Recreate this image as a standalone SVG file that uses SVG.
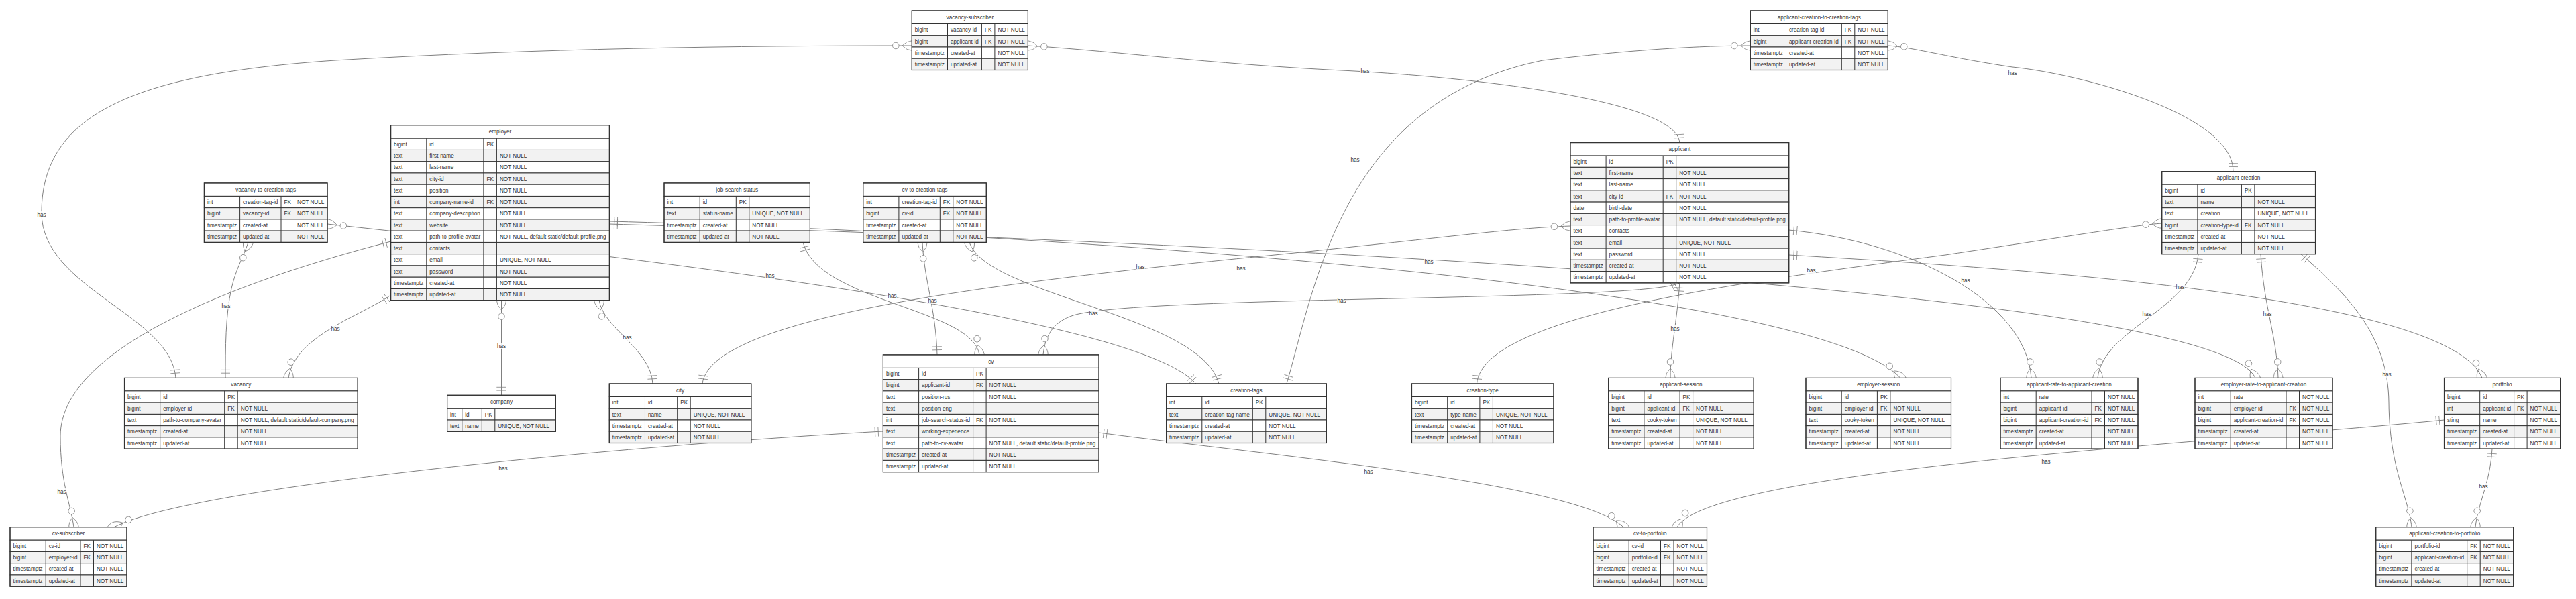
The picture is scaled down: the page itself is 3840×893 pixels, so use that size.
<svg xmlns="http://www.w3.org/2000/svg" width="3840" height="893" viewBox="0 0 3840 893">
<style>
.hd{fill:#fff;stroke:#333;stroke-width:1}
.o{fill:#fff;stroke:#333;stroke-width:1}
.e{fill:#f2f2f2;stroke:#333;stroke-width:1}
.v{stroke:#333;stroke-width:1;fill:none}
.fr{fill:none;stroke:#333;stroke-width:1.2}
text{font-family:"Liberation Sans",Arial,Helvetica,sans-serif;font-size:8.2px;fill:#333}
.h{text-anchor:middle}
.rl{fill:none;stroke:gray;stroke-width:1;marker-start:url(#one);marker-end:url(#many)}
.lb{fill:#fff;opacity:0.85}
.mk{fill:none;stroke:gray;stroke-width:1}
</style>
<defs>
<marker id="one" viewBox="0 0 18 18" markerWidth="14.4" markerHeight="14.4" refX="0" refY="9" orient="auto" markerUnits="userSpaceOnUse"><path class="mk" d="M9,0 L9,18 M15,0 L15,18"/></marker>
<marker id="many" viewBox="0 0 57 36" markerWidth="45.6" markerHeight="28.8" refX="39" refY="18" orient="auto" markerUnits="userSpaceOnUse"><circle cx="9" cy="18" r="6" fill="#fff" stroke="gray"/><path class="mk" d="M21,18 Q39,0 57,18 Q39,36 21,18"/></marker>
</defs>
<rect width="3840" height="893" fill="#fff"/>
<g id="connectors">
<path class="rl" d="M262,563.4 C255,470 62,430 62,317 C62,170 200,110 500,90 C800,72 1100,68 1359.3,68"/>
<path class="rl" d="M336,563.4 C336,520 336,470 345,430 C352,400 362,385 370,361.4"/>
<path class="rl" d="M582.6,440 C540,470 440,500 430,563.4"/>
<path class="rl" d="M747.5,589.3 L747.5,447.7"/>
<path class="rl" d="M973,572 C970,520 900,490 893,447.7"/>
<path class="rl" d="M1047,572 C1060,470 1500,420 1900,380 C2150,355 2250,340 2340.9,337"/>
<path class="rl" d="M908.4,330 C1500,345 2700,420 2833,563.4"/>
<path class="rl" d="M908.4,334 C1800,360 3300,430 3362,563.4"/>
<path class="rl" d="M582.6,360 C350,420 90,520 90,650 C90,720 105,750 110,785.7"/>
<path class="rl" d="M1197,361.4 C1220,450 1450,460 1460,528.9"/>
<path class="rl" d="M1397,528.9 C1395,460 1378,420 1375,361.4"/>
<path class="rl" d="M1817,572 C1790,470 1470,440 1445,361.4"/>
<path class="rl" d="M1783,572 C1700,480 1100,400 488,334"/>
<path class="rl" d="M1918,572 C1960,430 2000,150 2300,90 C2450,72 2550,68 2609.3,68"/>
<path class="rl" d="M3329,255.7 C3330,170 3100,110 3000,100 C2900,85 2850,70 2814.3,68"/>
<path class="rl" d="M2503.8,212.6 C2500,150 2200,115 2000,105 C1800,95 1650,75 1532.4,68"/>
<path class="rl" d="M2201.5,572 C2210,470 2600,420 2900,380 C3100,350 3180,336 3222.7,333"/>
<path class="rl" d="M3277,378.7 C3270,460 3135,490 3127,563.4"/>
<path class="rl" d="M3370,378.7 C3375,460 3394,500 3396,563.4"/>
<path class="rl" d="M3430,378.7 C3500,440 3560,500 3561,600 C3562,700 3590,740 3595,785.7"/>
<path class="rl" d="M3643.5,626 C3300,660 2550,700 2500,785.7"/>
<path class="rl" d="M3715,669.2 C3712,720 3694,750 3690,785.7"/>
<path class="rl" d="M1316.4,643 C1000,660 300,720 170,785.7"/>
<path class="rl" d="M1638.1,645 C1900,680 2350,720 2420,785.7"/>
<path class="rl" d="M2503.8,421.9 C2450,450 1700,440 1600,470 C1570,480 1558,500 1555,528.9"/>
<path class="rl" d="M2503.8,421.9 C2500,480 2490,520 2490,563.4"/>
<path class="rl" d="M2666.7,343 C2850,360 3020,450 3028,563.4"/>
<path class="rl" d="M2666.7,380 C3000,400 3650,440 3700,563.4"/>
</g>
<g id="vacancy-subscriber" transform="translate(1359.3,16)">
<rect class="hd" width="173.1" height="19.5"/><text class="h" x="86.55" y="12.8">vacancy-subscriber</text>
<rect class="o" y="19.5" width="173.1" height="17.25"/><rect class="e" y="36.75" width="173.1" height="17.25"/><rect class="o" y="54" width="173.1" height="17.25"/><rect class="e" y="71.25" width="173.1" height="17.25"/>
<path class="v" d="M53.2,19.5V88.5M104.1,19.5V88.5M123.6,19.5V88.5"/><rect class="fr" width="173.1" height="88.5"/>
<text x="4.5" y="31.3">bigint</text><text x="57.7" y="31.3">vacancy-id</text><text x="108.6" y="31.3">FK</text><text x="128.1" y="31.3">NOT NULL</text>
<text x="4.5" y="48.55">bigint</text><text x="57.7" y="48.55">applicant-id</text><text x="108.6" y="48.55">FK</text><text x="128.1" y="48.55">NOT NULL</text>
<text x="4.5" y="65.8">timestamptz</text><text x="57.7" y="65.8">created-at</text><text x="128.1" y="65.8">NOT NULL</text>
<text x="4.5" y="83.05">timestamptz</text><text x="57.7" y="83.05">updated-at</text><text x="128.1" y="83.05">NOT NULL</text>
</g>
<g id="applicant-creation-to-creation-tags" transform="translate(2609.3,16)">
<rect class="hd" width="205" height="19.5"/><text class="h" x="102.5" y="12.8">applicant-creation-to-creation-tags</text>
<rect class="o" y="19.5" width="205" height="17.25"/><rect class="e" y="36.75" width="205" height="17.25"/><rect class="o" y="54" width="205" height="17.25"/><rect class="e" y="71.25" width="205" height="17.25"/>
<path class="v" d="M53.2,19.5V88.5M136,19.5V88.5M155.5,19.5V88.5"/><rect class="fr" width="205" height="88.5"/>
<text x="4.5" y="31.3">int</text><text x="57.7" y="31.3">creation-tag-id</text><text x="140.5" y="31.3">FK</text><text x="160" y="31.3">NOT NULL</text>
<text x="4.5" y="48.55">bigint</text><text x="57.7" y="48.55">applicant-creation-id</text><text x="140.5" y="48.55">FK</text><text x="160" y="48.55">NOT NULL</text>
<text x="4.5" y="65.8">timestamptz</text><text x="57.7" y="65.8">created-at</text><text x="160" y="65.8">NOT NULL</text>
<text x="4.5" y="83.05">timestamptz</text><text x="57.7" y="83.05">updated-at</text><text x="160" y="83.05">NOT NULL</text>
</g>
<g id="vacancy-to-creation-tags" transform="translate(304.4,272.9)">
<rect class="hd" width="183.6" height="19.5"/><text class="h" x="91.8" y="12.8">vacancy-to-creation-tags</text>
<rect class="o" y="19.5" width="183.6" height="17.25"/><rect class="e" y="36.75" width="183.6" height="17.25"/><rect class="o" y="54" width="183.6" height="17.25"/><rect class="e" y="71.25" width="183.6" height="17.25"/>
<path class="v" d="M53.2,19.5V88.5M114.6,19.5V88.5M134.1,19.5V88.5"/><rect class="fr" width="183.6" height="88.5"/>
<text x="4.5" y="31.3">int</text><text x="57.7" y="31.3">creation-tag-id</text><text x="119.1" y="31.3">FK</text><text x="138.6" y="31.3">NOT NULL</text>
<text x="4.5" y="48.55">bigint</text><text x="57.7" y="48.55">vacancy-id</text><text x="119.1" y="48.55">FK</text><text x="138.6" y="48.55">NOT NULL</text>
<text x="4.5" y="65.8">timestamptz</text><text x="57.7" y="65.8">created-at</text><text x="138.6" y="65.8">NOT NULL</text>
<text x="4.5" y="83.05">timestamptz</text><text x="57.7" y="83.05">updated-at</text><text x="138.6" y="83.05">NOT NULL</text>
</g>
<g id="employer" transform="translate(582.6,186.7)">
<rect class="hd" width="325.8" height="19.5"/><text class="h" x="162.9" y="12.8">employer</text>
<rect class="o" y="19.5" width="325.8" height="17.25"/><rect class="e" y="36.75" width="325.8" height="17.25"/><rect class="o" y="54" width="325.8" height="17.25"/><rect class="e" y="71.25" width="325.8" height="17.25"/><rect class="o" y="88.5" width="325.8" height="17.25"/><rect class="e" y="105.75" width="325.8" height="17.25"/><rect class="o" y="123" width="325.8" height="17.25"/><rect class="e" y="140.25" width="325.8" height="17.25"/><rect class="o" y="157.5" width="325.8" height="17.25"/><rect class="e" y="174.75" width="325.8" height="17.25"/><rect class="o" y="192" width="325.8" height="17.25"/><rect class="e" y="209.25" width="325.8" height="17.25"/><rect class="o" y="226.5" width="325.8" height="17.25"/><rect class="e" y="243.75" width="325.8" height="17.25"/>
<path class="v" d="M53.2,19.5V261M138.3,19.5V261M157.8,19.5V261"/><rect class="fr" width="325.8" height="261"/>
<text x="4.5" y="31.3">bigint</text><text x="57.7" y="31.3">id</text><text x="142.8" y="31.3">PK</text>
<text x="4.5" y="48.55">text</text><text x="57.7" y="48.55">first-name</text><text x="162.3" y="48.55">NOT NULL</text>
<text x="4.5" y="65.8">text</text><text x="57.7" y="65.8">last-name</text><text x="162.3" y="65.8">NOT NULL</text>
<text x="4.5" y="83.05">text</text><text x="57.7" y="83.05">city-id</text><text x="142.8" y="83.05">FK</text><text x="162.3" y="83.05">NOT NULL</text>
<text x="4.5" y="100.3">text</text><text x="57.7" y="100.3">position</text><text x="162.3" y="100.3">NOT NULL</text>
<text x="4.5" y="117.55">int</text><text x="57.7" y="117.55">company-name-id</text><text x="142.8" y="117.55">FK</text><text x="162.3" y="117.55">NOT NULL</text>
<text x="4.5" y="134.8">text</text><text x="57.7" y="134.8">company-description</text><text x="162.3" y="134.8">NOT NULL</text>
<text x="4.5" y="152.05">text</text><text x="57.7" y="152.05">website</text><text x="162.3" y="152.05">NOT NULL</text>
<text x="4.5" y="169.3">text</text><text x="57.7" y="169.3">path-to-profile-avatar</text><text x="162.3" y="169.3">NOT NULL, default static/default-profile.png</text>
<text x="4.5" y="186.55">text</text><text x="57.7" y="186.55">contacts</text>
<text x="4.5" y="203.8">text</text><text x="57.7" y="203.8">email</text><text x="162.3" y="203.8">UNIQUE, NOT NULL</text>
<text x="4.5" y="221.05">text</text><text x="57.7" y="221.05">password</text><text x="162.3" y="221.05">NOT NULL</text>
<text x="4.5" y="238.3">timestamptz</text><text x="57.7" y="238.3">created-at</text><text x="162.3" y="238.3">NOT NULL</text>
<text x="4.5" y="255.55">timestamptz</text><text x="57.7" y="255.55">updated-at</text><text x="162.3" y="255.55">NOT NULL</text>
</g>
<g id="job-search-status" transform="translate(990,272.9)">
<rect class="hd" width="217.4" height="19.5"/><text class="h" x="108.7" y="12.8">job-search-status</text>
<rect class="o" y="19.5" width="217.4" height="17.25"/><rect class="e" y="36.75" width="217.4" height="17.25"/><rect class="o" y="54" width="217.4" height="17.25"/><rect class="e" y="71.25" width="217.4" height="17.25"/>
<path class="v" d="M53.2,19.5V88.5M107.3,19.5V88.5M126.8,19.5V88.5"/><rect class="fr" width="217.4" height="88.5"/>
<text x="4.5" y="31.3">int</text><text x="57.7" y="31.3">id</text><text x="111.8" y="31.3">PK</text>
<text x="4.5" y="48.55">text</text><text x="57.7" y="48.55">status-name</text><text x="131.3" y="48.55">UNIQUE, NOT NULL</text>
<text x="4.5" y="65.8">timestamptz</text><text x="57.7" y="65.8">created-at</text><text x="131.3" y="65.8">NOT NULL</text>
<text x="4.5" y="83.05">timestamptz</text><text x="57.7" y="83.05">updated-at</text><text x="131.3" y="83.05">NOT NULL</text>
</g>
<g id="cv-to-creation-tags" transform="translate(1286.7,272.9)">
<rect class="hd" width="183.6" height="19.5"/><text class="h" x="91.8" y="12.8">cv-to-creation-tags</text>
<rect class="o" y="19.5" width="183.6" height="17.25"/><rect class="e" y="36.75" width="183.6" height="17.25"/><rect class="o" y="54" width="183.6" height="17.25"/><rect class="e" y="71.25" width="183.6" height="17.25"/>
<path class="v" d="M53.2,19.5V88.5M114.6,19.5V88.5M134.1,19.5V88.5"/><rect class="fr" width="183.6" height="88.5"/>
<text x="4.5" y="31.3">int</text><text x="57.7" y="31.3">creation-tag-id</text><text x="119.1" y="31.3">FK</text><text x="138.6" y="31.3">NOT NULL</text>
<text x="4.5" y="48.55">bigint</text><text x="57.7" y="48.55">cv-id</text><text x="119.1" y="48.55">FK</text><text x="138.6" y="48.55">NOT NULL</text>
<text x="4.5" y="65.8">timestamptz</text><text x="57.7" y="65.8">created-at</text><text x="138.6" y="65.8">NOT NULL</text>
<text x="4.5" y="83.05">timestamptz</text><text x="57.7" y="83.05">updated-at</text><text x="138.6" y="83.05">NOT NULL</text>
</g>
<g id="applicant" transform="translate(2340.9,212.6)">
<rect class="hd" width="325.8" height="19.5"/><text class="h" x="162.9" y="12.8">applicant</text>
<rect class="o" y="19.5" width="325.8" height="17.25"/><rect class="e" y="36.75" width="325.8" height="17.25"/><rect class="o" y="54" width="325.8" height="17.25"/><rect class="e" y="71.25" width="325.8" height="17.25"/><rect class="o" y="88.5" width="325.8" height="17.25"/><rect class="e" y="105.75" width="325.8" height="17.25"/><rect class="o" y="123" width="325.8" height="17.25"/><rect class="e" y="140.25" width="325.8" height="17.25"/><rect class="o" y="157.5" width="325.8" height="17.25"/><rect class="e" y="174.75" width="325.8" height="17.25"/><rect class="o" y="192" width="325.8" height="17.25"/>
<path class="v" d="M53.2,19.5V209.25M138.3,19.5V209.25M157.8,19.5V209.25"/><rect class="fr" width="325.8" height="209.25"/>
<text x="4.5" y="31.3">bigint</text><text x="57.7" y="31.3">id</text><text x="142.8" y="31.3">PK</text>
<text x="4.5" y="48.55">text</text><text x="57.7" y="48.55">first-name</text><text x="162.3" y="48.55">NOT NULL</text>
<text x="4.5" y="65.8">text</text><text x="57.7" y="65.8">last-name</text><text x="162.3" y="65.8">NOT NULL</text>
<text x="4.5" y="83.05">text</text><text x="57.7" y="83.05">city-id</text><text x="142.8" y="83.05">FK</text><text x="162.3" y="83.05">NOT NULL</text>
<text x="4.5" y="100.3">date</text><text x="57.7" y="100.3">birth-date</text><text x="162.3" y="100.3">NOT NULL</text>
<text x="4.5" y="117.55">text</text><text x="57.7" y="117.55">path-to-profile-avatar</text><text x="162.3" y="117.55">NOT NULL, default static/default-profile.png</text>
<text x="4.5" y="134.8">text</text><text x="57.7" y="134.8">contacts</text>
<text x="4.5" y="152.05">text</text><text x="57.7" y="152.05">email</text><text x="162.3" y="152.05">UNIQUE, NOT NULL</text>
<text x="4.5" y="169.3">text</text><text x="57.7" y="169.3">password</text><text x="162.3" y="169.3">NOT NULL</text>
<text x="4.5" y="186.55">timestamptz</text><text x="57.7" y="186.55">created-at</text><text x="162.3" y="186.55">NOT NULL</text>
<text x="4.5" y="203.8">timestamptz</text><text x="57.7" y="203.8">updated-at</text><text x="162.3" y="203.8">NOT NULL</text>
</g>
<g id="applicant-creation" transform="translate(3222.7,255.7)">
<rect class="hd" width="228.8" height="19.5"/><text class="h" x="114.4" y="12.8">applicant-creation</text>
<rect class="o" y="19.5" width="228.8" height="17.25"/><rect class="e" y="36.75" width="228.8" height="17.25"/><rect class="o" y="54" width="228.8" height="17.25"/><rect class="e" y="71.25" width="228.8" height="17.25"/><rect class="o" y="88.5" width="228.8" height="17.25"/><rect class="e" y="105.75" width="228.8" height="17.25"/>
<path class="v" d="M53.2,19.5V123M118.7,19.5V123M138.2,19.5V123"/><rect class="fr" width="228.8" height="123"/>
<text x="4.5" y="31.3">bigint</text><text x="57.7" y="31.3">id</text><text x="123.2" y="31.3">PK</text>
<text x="4.5" y="48.55">text</text><text x="57.7" y="48.55">name</text><text x="142.7" y="48.55">NOT NULL</text>
<text x="4.5" y="65.8">text</text><text x="57.7" y="65.8">creation</text><text x="142.7" y="65.8">UNIQUE, NOT NULL</text>
<text x="4.5" y="83.05">bigint</text><text x="57.7" y="83.05">creation-type-id</text><text x="123.2" y="83.05">FK</text><text x="142.7" y="83.05">NOT NULL</text>
<text x="4.5" y="100.3">timestamptz</text><text x="57.7" y="100.3">created-at</text><text x="142.7" y="100.3">NOT NULL</text>
<text x="4.5" y="117.55">timestamptz</text><text x="57.7" y="117.55">updated-at</text><text x="142.7" y="117.55">NOT NULL</text>
</g>
<g id="vacancy" transform="translate(185.5,563.4)">
<rect class="hd" width="347.7" height="19.5"/><text class="h" x="173.85" y="12.8">vacancy</text>
<rect class="o" y="19.5" width="347.7" height="17.25"/><rect class="e" y="36.75" width="347.7" height="17.25"/><rect class="o" y="54" width="347.7" height="17.25"/><rect class="e" y="71.25" width="347.7" height="17.25"/><rect class="o" y="88.5" width="347.7" height="17.25"/>
<path class="v" d="M53.2,19.5V105.75M149.2,19.5V105.75M168.7,19.5V105.75"/><rect class="fr" width="347.7" height="105.75"/>
<text x="4.5" y="31.3">bigint</text><text x="57.7" y="31.3">id</text><text x="153.7" y="31.3">PK</text>
<text x="4.5" y="48.55">bigint</text><text x="57.7" y="48.55">employer-id</text><text x="153.7" y="48.55">FK</text><text x="173.2" y="48.55">NOT NULL</text>
<text x="4.5" y="65.8">text</text><text x="57.7" y="65.8">path-to-company-avatar</text><text x="173.2" y="65.8">NOT NULL, default static/default-company.png</text>
<text x="4.5" y="83.05">timestamptz</text><text x="57.7" y="83.05">created-at</text><text x="173.2" y="83.05">NOT NULL</text>
<text x="4.5" y="100.3">timestamptz</text><text x="57.7" y="100.3">updated-at</text><text x="173.2" y="100.3">NOT NULL</text>
</g>
<g id="company" transform="translate(666.6,589.3)">
<rect class="hd" width="161.8" height="19.5"/><text class="h" x="80.9" y="12.8">company</text>
<rect class="o" y="19.5" width="161.8" height="17.25"/><rect class="e" y="36.75" width="161.8" height="17.25"/>
<path class="v" d="M22.2,19.5V54M51.7,19.5V54M71.2,19.5V54"/><rect class="fr" width="161.8" height="54"/>
<text x="4.5" y="31.3">int</text><text x="26.7" y="31.3">id</text><text x="56.2" y="31.3">PK</text>
<text x="4.5" y="48.55">text</text><text x="26.7" y="48.55">name</text><text x="75.7" y="48.55">UNIQUE, NOT NULL</text>
</g>
<g id="city" transform="translate(908.3,572)">
<rect class="hd" width="211.5" height="19.5"/><text class="h" x="105.75" y="12.8">city</text>
<rect class="o" y="19.5" width="211.5" height="17.25"/><rect class="e" y="36.75" width="211.5" height="17.25"/><rect class="o" y="54" width="211.5" height="17.25"/><rect class="e" y="71.25" width="211.5" height="17.25"/>
<path class="v" d="M53.2,19.5V88.5M101.4,19.5V88.5M120.9,19.5V88.5"/><rect class="fr" width="211.5" height="88.5"/>
<text x="4.5" y="31.3">int</text><text x="57.7" y="31.3">id</text><text x="105.9" y="31.3">PK</text>
<text x="4.5" y="48.55">text</text><text x="57.7" y="48.55">name</text><text x="125.4" y="48.55">UNIQUE, NOT NULL</text>
<text x="4.5" y="65.8">timestamptz</text><text x="57.7" y="65.8">created-at</text><text x="125.4" y="65.8">NOT NULL</text>
<text x="4.5" y="83.05">timestamptz</text><text x="57.7" y="83.05">updated-at</text><text x="125.4" y="83.05">NOT NULL</text>
</g>
<g id="cv" transform="translate(1316.4,528.9)">
<rect class="hd" width="321.7" height="19.5"/><text class="h" x="160.85" y="12.8">cv</text>
<rect class="o" y="19.5" width="321.7" height="17.25"/><rect class="e" y="36.75" width="321.7" height="17.25"/><rect class="o" y="54" width="321.7" height="17.25"/><rect class="e" y="71.25" width="321.7" height="17.25"/><rect class="o" y="88.5" width="321.7" height="17.25"/><rect class="e" y="105.75" width="321.7" height="17.25"/><rect class="o" y="123" width="321.7" height="17.25"/><rect class="e" y="140.25" width="321.7" height="17.25"/><rect class="o" y="157.5" width="321.7" height="17.25"/>
<path class="v" d="M53.2,19.5V174.75M134.2,19.5V174.75M153.7,19.5V174.75"/><rect class="fr" width="321.7" height="174.75"/>
<text x="4.5" y="31.3">bigint</text><text x="57.7" y="31.3">id</text><text x="138.7" y="31.3">PK</text>
<text x="4.5" y="48.55">bigint</text><text x="57.7" y="48.55">applicant-id</text><text x="138.7" y="48.55">FK</text><text x="158.2" y="48.55">NOT NULL</text>
<text x="4.5" y="65.8">text</text><text x="57.7" y="65.8">position-rus</text><text x="158.2" y="65.8">NOT NULL</text>
<text x="4.5" y="83.05">text</text><text x="57.7" y="83.05">position-eng</text>
<text x="4.5" y="100.3">int</text><text x="57.7" y="100.3">job-search-status-id</text><text x="138.7" y="100.3">FK</text><text x="158.2" y="100.3">NOT NULL</text>
<text x="4.5" y="117.55">text</text><text x="57.7" y="117.55">working-experience</text>
<text x="4.5" y="134.8">text</text><text x="57.7" y="134.8">path-to-cv-avatar</text><text x="158.2" y="134.8">NOT NULL, default static/default-profile.png</text>
<text x="4.5" y="152.05">timestamptz</text><text x="57.7" y="152.05">created-at</text><text x="158.2" y="152.05">NOT NULL</text>
<text x="4.5" y="169.3">timestamptz</text><text x="57.7" y="169.3">updated-at</text><text x="158.2" y="169.3">NOT NULL</text>
</g>
<g id="creation-tags" transform="translate(1738.6,572)">
<rect class="hd" width="238.8" height="19.5"/><text class="h" x="119.4" y="12.8">creation-tags</text>
<rect class="o" y="19.5" width="238.8" height="17.25"/><rect class="e" y="36.75" width="238.8" height="17.25"/><rect class="o" y="54" width="238.8" height="17.25"/><rect class="e" y="71.25" width="238.8" height="17.25"/>
<path class="v" d="M53.2,19.5V88.5M128.7,19.5V88.5M148.2,19.5V88.5"/><rect class="fr" width="238.8" height="88.5"/>
<text x="4.5" y="31.3">int</text><text x="57.7" y="31.3">id</text><text x="133.2" y="31.3">PK</text>
<text x="4.5" y="48.55">text</text><text x="57.7" y="48.55">creation-tag-name</text><text x="152.7" y="48.55">UNIQUE, NOT NULL</text>
<text x="4.5" y="65.8">timestamptz</text><text x="57.7" y="65.8">created-at</text><text x="152.7" y="65.8">NOT NULL</text>
<text x="4.5" y="83.05">timestamptz</text><text x="57.7" y="83.05">updated-at</text><text x="152.7" y="83.05">NOT NULL</text>
</g>
<g id="creation-type" transform="translate(2104.5,572)">
<rect class="hd" width="211.5" height="19.5"/><text class="h" x="105.75" y="12.8">creation-type</text>
<rect class="o" y="19.5" width="211.5" height="17.25"/><rect class="e" y="36.75" width="211.5" height="17.25"/><rect class="o" y="54" width="211.5" height="17.25"/><rect class="e" y="71.25" width="211.5" height="17.25"/>
<path class="v" d="M53.2,19.5V88.5M101.4,19.5V88.5M120.9,19.5V88.5"/><rect class="fr" width="211.5" height="88.5"/>
<text x="4.5" y="31.3">bigint</text><text x="57.7" y="31.3">id</text><text x="105.9" y="31.3">PK</text>
<text x="4.5" y="48.55">text</text><text x="57.7" y="48.55">type-name</text><text x="125.4" y="48.55">UNIQUE, NOT NULL</text>
<text x="4.5" y="65.8">timestamptz</text><text x="57.7" y="65.8">created-at</text><text x="125.4" y="65.8">NOT NULL</text>
<text x="4.5" y="83.05">timestamptz</text><text x="57.7" y="83.05">updated-at</text><text x="125.4" y="83.05">NOT NULL</text>
</g>
<g id="applicant-session" transform="translate(2397.7,563.4)">
<rect class="hd" width="216.5" height="19.5"/><text class="h" x="108.25" y="12.8">applicant-session</text>
<rect class="o" y="19.5" width="216.5" height="17.25"/><rect class="e" y="36.75" width="216.5" height="17.25"/><rect class="o" y="54" width="216.5" height="17.25"/><rect class="e" y="71.25" width="216.5" height="17.25"/><rect class="o" y="88.5" width="216.5" height="17.25"/>
<path class="v" d="M53.2,19.5V105.75M106.4,19.5V105.75M125.9,19.5V105.75"/><rect class="fr" width="216.5" height="105.75"/>
<text x="4.5" y="31.3">bigint</text><text x="57.7" y="31.3">id</text><text x="110.9" y="31.3">PK</text>
<text x="4.5" y="48.55">bigint</text><text x="57.7" y="48.55">applicant-id</text><text x="110.9" y="48.55">FK</text><text x="130.4" y="48.55">NOT NULL</text>
<text x="4.5" y="65.8">text</text><text x="57.7" y="65.8">cooky-token</text><text x="130.4" y="65.8">UNIQUE, NOT NULL</text>
<text x="4.5" y="83.05">timestamptz</text><text x="57.7" y="83.05">created-at</text><text x="130.4" y="83.05">NOT NULL</text>
<text x="4.5" y="100.3">timestamptz</text><text x="57.7" y="100.3">updated-at</text><text x="130.4" y="100.3">NOT NULL</text>
</g>
<g id="employer-session" transform="translate(2692,563.4)">
<rect class="hd" width="216.5" height="19.5"/><text class="h" x="108.25" y="12.8">employer-session</text>
<rect class="o" y="19.5" width="216.5" height="17.25"/><rect class="e" y="36.75" width="216.5" height="17.25"/><rect class="o" y="54" width="216.5" height="17.25"/><rect class="e" y="71.25" width="216.5" height="17.25"/><rect class="o" y="88.5" width="216.5" height="17.25"/>
<path class="v" d="M53.2,19.5V105.75M106.4,19.5V105.75M125.9,19.5V105.75"/><rect class="fr" width="216.5" height="105.75"/>
<text x="4.5" y="31.3">bigint</text><text x="57.7" y="31.3">id</text><text x="110.9" y="31.3">PK</text>
<text x="4.5" y="48.55">bigint</text><text x="57.7" y="48.55">employer-id</text><text x="110.9" y="48.55">FK</text><text x="130.4" y="48.55">NOT NULL</text>
<text x="4.5" y="65.8">text</text><text x="57.7" y="65.8">cooky-token</text><text x="130.4" y="65.8">UNIQUE, NOT NULL</text>
<text x="4.5" y="83.05">timestamptz</text><text x="57.7" y="83.05">created-at</text><text x="130.4" y="83.05">NOT NULL</text>
<text x="4.5" y="100.3">timestamptz</text><text x="57.7" y="100.3">updated-at</text><text x="130.4" y="100.3">NOT NULL</text>
</g>
<g id="applicant-rate-to-applicant-creation" transform="translate(2982,563.4)">
<rect class="hd" width="205" height="19.5"/><text class="h" x="102.5" y="12.8">applicant-rate-to-applicant-creation</text>
<rect class="o" y="19.5" width="205" height="17.25"/><rect class="e" y="36.75" width="205" height="17.25"/><rect class="o" y="54" width="205" height="17.25"/><rect class="e" y="71.25" width="205" height="17.25"/><rect class="o" y="88.5" width="205" height="17.25"/>
<path class="v" d="M53.2,19.5V105.75M136,19.5V105.75M155.5,19.5V105.75"/><rect class="fr" width="205" height="105.75"/>
<text x="4.5" y="31.3">int</text><text x="57.7" y="31.3">rate</text><text x="160" y="31.3">NOT NULL</text>
<text x="4.5" y="48.55">bigint</text><text x="57.7" y="48.55">applicant-id</text><text x="140.5" y="48.55">FK</text><text x="160" y="48.55">NOT NULL</text>
<text x="4.5" y="65.8">bigint</text><text x="57.7" y="65.8">applicant-creation-id</text><text x="140.5" y="65.8">FK</text><text x="160" y="65.8">NOT NULL</text>
<text x="4.5" y="83.05">timestamptz</text><text x="57.7" y="83.05">created-at</text><text x="160" y="83.05">NOT NULL</text>
<text x="4.5" y="100.3">timestamptz</text><text x="57.7" y="100.3">updated-at</text><text x="160" y="100.3">NOT NULL</text>
</g>
<g id="employer-rate-to-applicant-creation" transform="translate(3272,563.4)">
<rect class="hd" width="205" height="19.5"/><text class="h" x="102.5" y="12.8">employer-rate-to-applicant-creation</text>
<rect class="o" y="19.5" width="205" height="17.25"/><rect class="e" y="36.75" width="205" height="17.25"/><rect class="o" y="54" width="205" height="17.25"/><rect class="e" y="71.25" width="205" height="17.25"/><rect class="o" y="88.5" width="205" height="17.25"/>
<path class="v" d="M53.2,19.5V105.75M136,19.5V105.75M155.5,19.5V105.75"/><rect class="fr" width="205" height="105.75"/>
<text x="4.5" y="31.3">int</text><text x="57.7" y="31.3">rate</text><text x="160" y="31.3">NOT NULL</text>
<text x="4.5" y="48.55">bigint</text><text x="57.7" y="48.55">employer-id</text><text x="140.5" y="48.55">FK</text><text x="160" y="48.55">NOT NULL</text>
<text x="4.5" y="65.8">bigint</text><text x="57.7" y="65.8">applicant-creation-id</text><text x="140.5" y="65.8">FK</text><text x="160" y="65.8">NOT NULL</text>
<text x="4.5" y="83.05">timestamptz</text><text x="57.7" y="83.05">created-at</text><text x="160" y="83.05">NOT NULL</text>
<text x="4.5" y="100.3">timestamptz</text><text x="57.7" y="100.3">updated-at</text><text x="160" y="100.3">NOT NULL</text>
</g>
<g id="portfolio" transform="translate(3643.5,563.4)">
<rect class="hd" width="173.1" height="19.5"/><text class="h" x="86.55" y="12.8">portfolio</text>
<rect class="o" y="19.5" width="173.1" height="17.25"/><rect class="e" y="36.75" width="173.1" height="17.25"/><rect class="o" y="54" width="173.1" height="17.25"/><rect class="e" y="71.25" width="173.1" height="17.25"/><rect class="o" y="88.5" width="173.1" height="17.25"/>
<path class="v" d="M53.2,19.5V105.75M104.1,19.5V105.75M123.6,19.5V105.75"/><rect class="fr" width="173.1" height="105.75"/>
<text x="4.5" y="31.3">bigint</text><text x="57.7" y="31.3">id</text><text x="108.6" y="31.3">PK</text>
<text x="4.5" y="48.55">int</text><text x="57.7" y="48.55">applicant-id</text><text x="108.6" y="48.55">FK</text><text x="128.1" y="48.55">NOT NULL</text>
<text x="4.5" y="65.8">sting</text><text x="57.7" y="65.8">name</text><text x="128.1" y="65.8">NOT NULL</text>
<text x="4.5" y="83.05">timestamptz</text><text x="57.7" y="83.05">created-at</text><text x="128.1" y="83.05">NOT NULL</text>
<text x="4.5" y="100.3">timestamptz</text><text x="57.7" y="100.3">updated-at</text><text x="128.1" y="100.3">NOT NULL</text>
</g>
<g id="cv-subscriber" transform="translate(15,785.7)">
<rect class="hd" width="174" height="19.5"/><text class="h" x="87" y="12.8">cv-subscriber</text>
<rect class="o" y="19.5" width="174" height="17.25"/><rect class="e" y="36.75" width="174" height="17.25"/><rect class="o" y="54" width="174" height="17.25"/><rect class="e" y="71.25" width="174" height="17.25"/>
<path class="v" d="M53.2,19.5V88.5M105,19.5V88.5M124.5,19.5V88.5"/><rect class="fr" width="174" height="88.5"/>
<text x="4.5" y="31.3">bigint</text><text x="57.7" y="31.3">cv-id</text><text x="109.5" y="31.3">FK</text><text x="129" y="31.3">NOT NULL</text>
<text x="4.5" y="48.55">bigint</text><text x="57.7" y="48.55">employer-id</text><text x="109.5" y="48.55">FK</text><text x="129" y="48.55">NOT NULL</text>
<text x="4.5" y="65.8">timestamptz</text><text x="57.7" y="65.8">created-at</text><text x="129" y="65.8">NOT NULL</text>
<text x="4.5" y="83.05">timestamptz</text><text x="57.7" y="83.05">updated-at</text><text x="129" y="83.05">NOT NULL</text>
</g>
<g id="cv-to-portfolio" transform="translate(2375,785.7)">
<rect class="hd" width="169.5" height="19.5"/><text class="h" x="84.75" y="12.8">cv-to-portfolio</text>
<rect class="o" y="19.5" width="169.5" height="17.25"/><rect class="e" y="36.75" width="169.5" height="17.25"/><rect class="o" y="54" width="169.5" height="17.25"/><rect class="e" y="71.25" width="169.5" height="17.25"/>
<path class="v" d="M53.2,19.5V88.5M100.5,19.5V88.5M120,19.5V88.5"/><rect class="fr" width="169.5" height="88.5"/>
<text x="4.5" y="31.3">bigint</text><text x="57.7" y="31.3">cv-id</text><text x="105" y="31.3">FK</text><text x="124.5" y="31.3">NOT NULL</text>
<text x="4.5" y="48.55">bigint</text><text x="57.7" y="48.55">portfolio-id</text><text x="105" y="48.55">FK</text><text x="124.5" y="48.55">NOT NULL</text>
<text x="4.5" y="65.8">timestamptz</text><text x="57.7" y="65.8">created-at</text><text x="124.5" y="65.8">NOT NULL</text>
<text x="4.5" y="83.05">timestamptz</text><text x="57.7" y="83.05">updated-at</text><text x="124.5" y="83.05">NOT NULL</text>
</g>
<g id="applicant-creation-to-portfolio" transform="translate(3541.7,785.7)">
<rect class="hd" width="205" height="19.5"/><text class="h" x="102.5" y="12.8">applicant-creation-to-portfolio</text>
<rect class="o" y="19.5" width="205" height="17.25"/><rect class="e" y="36.75" width="205" height="17.25"/><rect class="o" y="54" width="205" height="17.25"/><rect class="e" y="71.25" width="205" height="17.25"/>
<path class="v" d="M53.2,19.5V88.5M136,19.5V88.5M155.5,19.5V88.5"/><rect class="fr" width="205" height="88.5"/>
<text x="4.5" y="31.3">bigint</text><text x="57.7" y="31.3">portfolio-id</text><text x="140.5" y="31.3">FK</text><text x="160" y="31.3">NOT NULL</text>
<text x="4.5" y="48.55">bigint</text><text x="57.7" y="48.55">applicant-creation-id</text><text x="140.5" y="48.55">FK</text><text x="160" y="48.55">NOT NULL</text>
<text x="4.5" y="65.8">timestamptz</text><text x="57.7" y="65.8">created-at</text><text x="160" y="65.8">NOT NULL</text>
<text x="4.5" y="83.05">timestamptz</text><text x="57.7" y="83.05">updated-at</text><text x="160" y="83.05">NOT NULL</text>
</g>
<g id="connector-labels">
<rect class="lb" x="55" y="315" width="14" height="10"/><text class="h" x="62" y="323">has</text>
<rect class="lb" x="330" y="451" width="14" height="10"/><text class="h" x="337" y="459">has</text>
<rect class="lb" x="493" y="485" width="14" height="10"/><text class="h" x="500" y="493">has</text>
<rect class="lb" x="740.5" y="511" width="14" height="10"/><text class="h" x="747.5" y="519">has</text>
<rect class="lb" x="928" y="498" width="14" height="10"/><text class="h" x="935" y="506">has</text>
<rect class="lb" x="1693" y="393" width="14" height="10"/><text class="h" x="1700" y="401">has</text>
<rect class="lb" x="1843" y="395" width="14" height="10"/><text class="h" x="1850" y="403">has</text>
<rect class="lb" x="2123" y="385" width="14" height="10"/><text class="h" x="2130" y="393">has</text>
<rect class="lb" x="85" y="728" width="14" height="10"/><text class="h" x="92" y="736">has</text>
<rect class="lb" x="1323" y="436" width="14" height="10"/><text class="h" x="1330" y="444">has</text>
<rect class="lb" x="1383" y="443" width="14" height="10"/><text class="h" x="1390" y="451">has</text>
<rect class="lb" x="1623" y="462" width="14" height="10"/><text class="h" x="1630" y="470">has</text>
<rect class="lb" x="1141" y="406" width="14" height="10"/><text class="h" x="1148" y="414">has</text>
<rect class="lb" x="2013" y="233" width="14" height="10"/><text class="h" x="2020" y="241">has</text>
<rect class="lb" x="2993" y="104" width="14" height="10"/><text class="h" x="3000" y="112">has</text>
<rect class="lb" x="2028" y="101" width="14" height="10"/><text class="h" x="2035" y="109">has</text>
<rect class="lb" x="2693" y="398" width="14" height="10"/><text class="h" x="2700" y="406">has</text>
<rect class="lb" x="3193" y="463" width="14" height="10"/><text class="h" x="3200" y="471">has</text>
<rect class="lb" x="3373" y="463" width="14" height="10"/><text class="h" x="3380" y="471">has</text>
<rect class="lb" x="3551" y="553" width="14" height="10"/><text class="h" x="3558" y="561">has</text>
<rect class="lb" x="3043" y="683" width="14" height="10"/><text class="h" x="3050" y="691">has</text>
<rect class="lb" x="3695" y="720" width="14" height="10"/><text class="h" x="3702" y="728">has</text>
<rect class="lb" x="743" y="693" width="14" height="10"/><text class="h" x="750" y="701">has</text>
<rect class="lb" x="2033" y="698" width="14" height="10"/><text class="h" x="2040" y="706">has</text>
<rect class="lb" x="1993" y="443" width="14" height="10"/><text class="h" x="2000" y="451">has</text>
<rect class="lb" x="2490" y="485" width="14" height="10"/><text class="h" x="2497" y="493">has</text>
<rect class="lb" x="2923" y="413" width="14" height="10"/><text class="h" x="2930" y="421">has</text>
<rect class="lb" x="3243" y="423" width="14" height="10"/><text class="h" x="3250" y="431">has</text>
</g>
</svg>
